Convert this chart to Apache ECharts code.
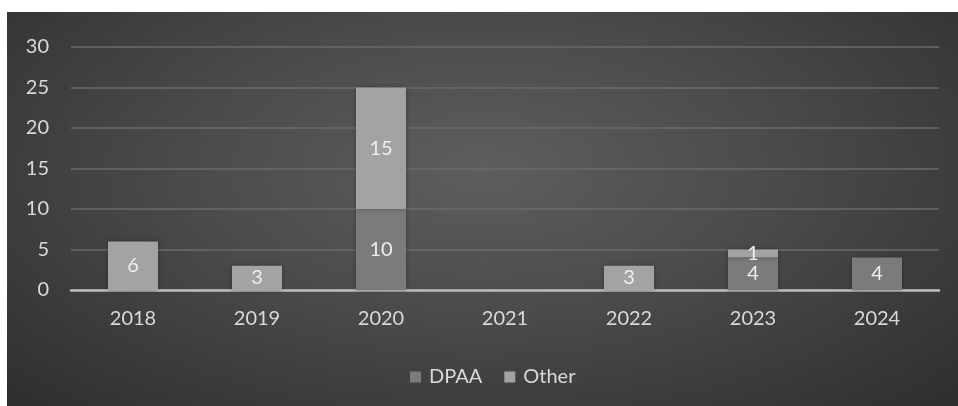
<!DOCTYPE html>
<html><head><meta charset="utf-8">
<script src="https://cdn.jsdelivr.net/npm/echarts@6/dist/echarts.min.js"></script>
<style>
html,body{margin:0;padding:0;background:#fff;}
#c{position:absolute;left:7px;top:12px;width:951px;height:394px;
background:radial-gradient(ellipse at 50% 40%, #5e5e5e 0%, #4a4a4a 45%, #2e2e2e 100%);}
</style></head>
<body><div id="c"></div>
<script>
const categories = ['2018','2019','2020','2021','2022','2023','2024'];
const dpaa = [null, null, 10, null, null, 4, 4];
const other = [6, 3, 15, null, 3, 1, null];
const yTicks = [0, 5, 10, 15, 20, 25, 30];

const font = 'Lato, "Noto Sans", sans-serif';
const fs = 20;
const chart = echarts.init(document.getElementById('c'), null, {renderer:'canvas'});
chart.setOption({
  backgroundColor:'transparent',
  animation:false,
  grid:{left:64, right:19, top:35, bottom:116, containLabel:false},
  legend:{
    data:['DPAA','Other'], bottom:14, left:398,
    itemWidth:11, itemHeight:11, itemGap:22, icon:'rect',
    textStyle:{color:'#d9d9d9', fontSize:fs, fontFamily:font, padding:[0,0,0,3]}
  },
  xAxis:{
    type:'category', data:categories,
    axisLine:{lineStyle:{color:'#bdbdbd', width:2.5}},
    axisTick:{show:false},
    axisLabel:{color:'#d9d9d9', fontSize:fs, fontFamily:font, margin:19}
  },
  yAxis:{
    type:'value', min:yTicks[0], max:yTicks[yTicks.length-1], interval:5,
    axisLine:{show:false}, axisTick:{show:false},
    splitLine:{lineStyle:{color:'#6a6a6a', width:1.5}},
    axisLabel:{color:'#d9d9d9', fontSize:fs, fontFamily:font, margin:22}
  },
  series:[
    {name:'DPAA', type:'bar', stack:'a', data:dpaa, barWidth:50,
     itemStyle:{color:'#7b7b7b', shadowColor:'rgba(0,0,0,0.35)', shadowBlur:4},
     label:{show:true, position:'inside', color:'#eeeeee', fontSize:fs, fontFamily:font}},
    {name:'Other', type:'bar', stack:'a', data:other, barWidth:50,
     itemStyle:{color:'#a3a3a3', shadowColor:'rgba(0,0,0,0.35)', shadowBlur:4},
     label:{show:true, position:'inside', color:'#eeeeee', fontSize:fs, fontFamily:font}}
  ]
});
</script></body></html>
